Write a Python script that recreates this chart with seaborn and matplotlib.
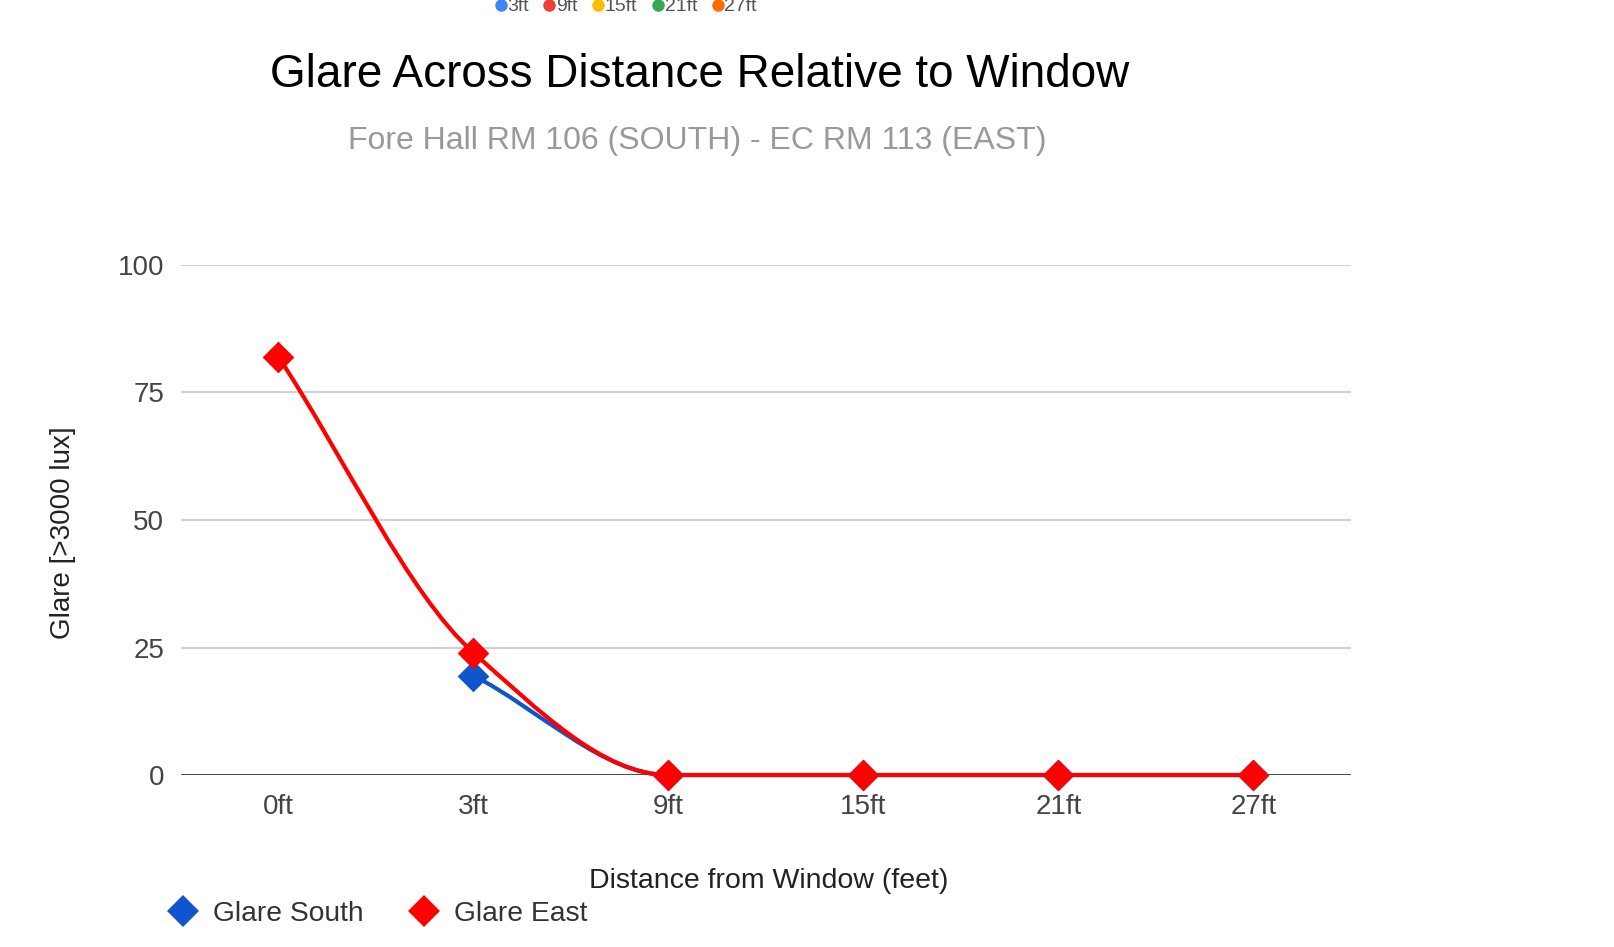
import numpy as np
import pandas as pd
import matplotlib
matplotlib.use("Agg")
import matplotlib.pyplot as plt
from matplotlib.path import Path
from matplotlib.patches import PathPatch
from matplotlib.lines import Line2D
import seaborn as sns

# Data
distances = ["0ft", "3ft", "9ft", "15ft", "21ft", "27ft"]
glare_south = [np.nan, 19.5, 0, 0, 0, 0]
glare_east = [82, 24, 0, 0, 0, 0]
y_ticks = [0, 25, 50, 75, 100]

# Header legend (position labels)
header_labels = ["3ft", "9ft", "15ft", "21ft", "27ft"]
header_colors = ["#4285F4", "#EA4335", "#FBBC04", "#34A853", "#FF6D01"]

SOUTH_COLOR = "#1155CC"
EAST_COLOR = "#FF0000"

sns.set_style("white")
plt.rcParams["font.family"] = ["Liberation Sans", "DejaVu Sans"]

fig = plt.figure(figsize=(16.15, 9.47), dpi=100)
ax = fig.add_axes([0.112, 0.1816, 0.7245, 0.5386])


def smooth_path(xs, ys):
    """Monotone cubic (Fritsch-Carlson) curve through the points as Bezier segments."""
    pts = [(x, y) for x, y in zip(xs, ys) if not np.isnan(y)]
    xs = np.array([p[0] for p in pts], dtype=float)
    ys = np.array([p[1] for p in pts], dtype=float)
    h = np.diff(xs)
    d = np.diff(ys) / h
    n = len(xs)
    m = np.zeros(n)
    m[0] = d[0]
    m[-1] = d[-1]
    for i in range(1, n - 1):
        if d[i - 1] * d[i] <= 0:
            m[i] = 0.0
        else:
            m[i] = 2.0 / (1.0 / d[i - 1] + 1.0 / d[i])
    verts = [(xs[0], ys[0])]
    codes = [Path.MOVETO]
    for i in range(n - 1):
        verts += [
            (xs[i] + h[i] / 3, ys[i] + m[i] * h[i] / 3),
            (xs[i + 1] - h[i] / 3, ys[i + 1] - m[i + 1] * h[i] / 3),
            (xs[i + 1], ys[i + 1]),
        ]
        codes += [Path.CURVE4] * 3
    return Path(verts, codes)


x_idx = list(range(len(distances)))
for values, color in [(glare_south, SOUTH_COLOR), (glare_east, EAST_COLOR)]:
    patch = PathPatch(smooth_path(x_idx, values), facecolor="none", edgecolor=color,
                      lw=3, capstyle="round", joinstyle="round", zorder=3, clip_on=False)
    ax.add_patch(patch)
    pts = pd.DataFrame({"x": x_idx, "glare": values}).dropna()
    sns.scatterplot(data=pts, x="x", y="glare",
                    marker="D", s=260, color=color, edgecolor=color, linewidth=0,
                    ax=ax, zorder=4, clip_on=False, legend=False)

ax.set_xlim(-0.5, len(distances) - 0.5)
ax.set_ylim(0, 100)
ax.set_xticks(x_idx)
ax.set_xticklabels(distances)
ax.set_yticks(y_ticks)
ax.set_yticklabels([str(t) for t in y_ticks])
ax.tick_params(axis="both", length=0, labelsize=20, colors="#444444")
ax.tick_params(axis="x", pad=14)
ax.tick_params(axis="y", pad=12)

for t in y_ticks[1:]:
    ax.axhline(t, color="#cccccc", lw=1.3, zorder=1)
ax.axhline(0, color="#111111", lw=1.8, zorder=2)
for s in ax.spines.values():
    s.set_visible(False)

ax.set_xlabel("Distance from Window (feet)", fontsize=20.5, color="#222222")
ax.set_ylabel("Glare [>3000 lux]", fontsize=20, color="#222222")
ax.xaxis.set_label_coords(0.502, -0.183)
ax.yaxis.set_label_coords(-0.09, 0.475)

fig.text(0.4335, 0.921, "Glare Across Distance Relative to Window", fontsize=33,
         color="#000000", ha="center", va="center")
fig.text(0.4315, 0.851, "Fore Hall RM 106 (SOUTH) - EC RM 113 (EAST)", fontsize=23,
         color="#999999", ha="center", va="center")

# Series legend at the bottom
series_handles = [
    Line2D([], [], marker="D", linestyle="none", markersize=16, color=SOUTH_COLOR,
           markeredgewidth=0, label="Glare South"),
    Line2D([], [], marker="D", linestyle="none", markersize=16, color=EAST_COLOR,
           markeredgewidth=0, label="Glare East"),
]
fig.legend(handles=series_handles, loc="center left", bbox_to_anchor=(0.089, 0.035),
           ncol=2, frameon=False, fontsize=20.3, handletextpad=0.55, columnspacing=1.65,
           labelcolor="#333333", handlelength=1.0)

# Header legend, partly cut by the top edge
header_handles = [
    Line2D([], [], marker="o", linestyle="none", markersize=9, color=c,
           markeredgewidth=0, label=l)
    for l, c in zip(header_labels, header_colors)
]
fig.legend(handles=header_handles, loc="center", bbox_to_anchor=(0.3875, 0.993),
           ncol=5, frameon=False, fontsize=14, handletextpad=0.05, columnspacing=0.75,
           labelcolor="#555555", handlelength=0.6)

fig.savefig("out.png", dpi=100, facecolor="white")
